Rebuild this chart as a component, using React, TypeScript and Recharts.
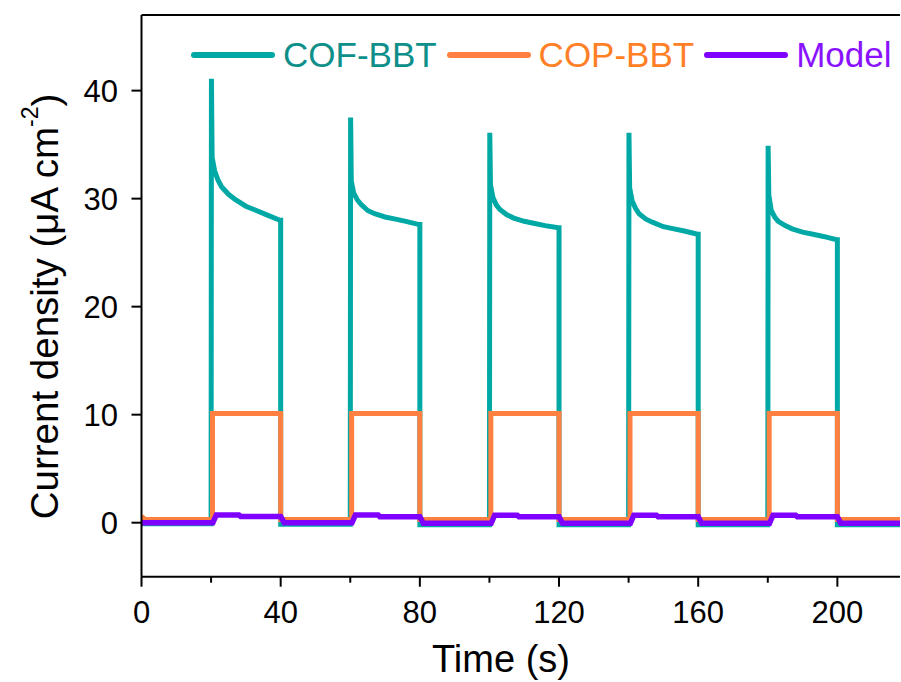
import React from 'react';
import { LineChart, Line, XAxis, YAxis, ReferenceLine, Legend } from 'recharts';

const FONT = '"Liberation Sans", Arial, Helvetica, sans-serif';

// ---- data ----
const lightOn = [20, 60, 100, 140, 180]; // s, illumination starts
const pulseLength = 20; // s
const tEnd = 218;
const xTicks = [0, 20, 40, 60, 80, 100, 120, 140, 160, 180, 200];
const yTicks = [0, 10, 20, 30, 40];

// COF-BBT
const cofDark = [-0.1, -0.15, -0.2, -0.2, -0.2, -0.2];
const cofPeak = [41.1, 37.5, 36.1, 36.1, 34.9];
const decayTimes = [0.3, 1, 2, 3, 5, 7, 10, 13, 16, 19.8];
const cofDecay1 = [33.8, 32.6, 31.7, 31.1, 30.4, 29.9, 29.3, 28.9, 28.5, 28.0];
const cofDecay2 = [31.6, 30.5, 29.9, 29.5, 28.9, 28.6, 28.3, 28.1, 27.9, 27.6];
const cofDecay3 = [31.3, 30.1, 29.4, 29.0, 28.5, 28.2, 27.9, 27.7, 27.5, 27.3];
const cofDecay4 = [31.0, 29.8, 29.1, 28.6, 28.1, 27.8, 27.4, 27.2, 27.0, 26.7];
const cofDecay5 = [30.3, 28.9, 28.3, 27.9, 27.5, 27.2, 26.9, 26.7, 26.5, 26.2];
const cofDecays = [cofDecay1, cofDecay2, cofDecay3, cofDecay4, cofDecay5];

// COP-BBT
const copStart = 0.6;
const copDark = [0.3, 0.3, 0.3, 0.3, 0.3, 0.3];
const copLight = [10.1, 10.1, 10.1, 10.1, 10.1];

// Model
const modelDark = [0.0, 0.0, -0.05, -0.05, -0.05, -0.05];
const modelHigh = [0.72, 0.72, 0.7, 0.7, 0.7];
const modelLow = [0.58, 0.55, 0.55, 0.55, 0.55];

const legendItems = [
  { name: 'COF-BBT', line: '#00A9A5', text: '#0E8F8A' },
  { name: 'COP-BBT', line: '#FF8040', text: '#FF8026' },
  { name: 'Model', line: '#8000FF', text: '#8A12FF' },
];

// ---- build series ----
type P = { t: number; v: number };

function buildCof(): P[] {
  const pts: P[] = [{ t: 0, v: cofDark[0] }];
  lightOn.forEach((t0, i) => {
    const d = cofDecays[i];
    pts.push({ t: t0, v: cofDark[i] });
    pts.push({ t: t0 + 0.1, v: cofPeak[i] });
    decayTimes.forEach((dt, j) => pts.push({ t: t0 + dt, v: d[j] }));
    pts.push({ t: t0 + pulseLength, v: d[d.length - 1] });
    pts.push({ t: t0 + pulseLength, v: cofDark[i + 1] });
  });
  pts.push({ t: tEnd, v: cofDark[cofDark.length - 1] });
  return pts;
}

function buildCop(): P[] {
  const pts: P[] = [{ t: 0, v: copStart }, { t: 1, v: copDark[0] }];
  lightOn.forEach((t0, i) => {
    pts.push({ t: t0 + 0.4, v: copDark[i] });
    pts.push({ t: t0 + 0.4, v: copLight[i] });
    pts.push({ t: t0 + pulseLength, v: copLight[i] });
    pts.push({ t: t0 + pulseLength, v: copDark[i + 1] });
  });
  pts.push({ t: tEnd, v: copDark[copDark.length - 1] });
  return pts;
}

function buildModel(): P[] {
  const pts: P[] = [{ t: 0, v: modelDark[0] }];
  lightOn.forEach((t0, i) => {
    pts.push({ t: t0 + 0.5, v: modelDark[i] });
    pts.push({ t: t0 + 1.5, v: modelHigh[i] });
    pts.push({ t: t0 + 8, v: modelHigh[i] });
    pts.push({ t: t0 + 8.5, v: modelLow[i] });
    pts.push({ t: t0 + pulseLength, v: modelLow[i] });
    pts.push({ t: t0 + pulseLength + 1, v: modelDark[i + 1] });
  });
  pts.push({ t: tEnd, v: modelDark[modelDark.length - 1] });
  return pts;
}

const cofData = buildCof();
const copData = buildCop();
const modelData = buildModel();

// ---- custom pieces ----
const XTick = (props: any) => {
  const { x, y, payload } = props;
  const major = payload.value % 40 === 0;
  return (
    <g>
      <line x1={x} x2={x} y1={y} y2={y + (major ? 10 : 6)} stroke="#000" strokeWidth={2} />
      {major && (
        <text x={x} y={y + 46.6} textAnchor="middle" fontSize={31} fontFamily={FONT} fill="#000">
          {payload.value}
        </text>
      )}
    </g>
  );
};

const YTick = (props: any) => {
  const { x, y, payload } = props;
  return (
    <g>
      <line x1={x - 10} x2={x} y1={y} y2={y} stroke="#000" strokeWidth={2} />
      <text x={x - 23.5} y={y + 11} textAnchor="end" fontSize={31} fontFamily={FONT} fill="#000">
        {payload.value}
      </text>
    </g>
  );
};

const XTitle = (props: any) => {
  const vb = props.viewBox || {};
  return (
    <text x={vb.x + 359.5} y={vb.y + 95.6} textAnchor="middle" fontSize={38} fontFamily={FONT} fill="#000">
      Time (s)
    </text>
  );
};

const YTitle = (props: any) => {
  const vb = props.viewBox || {};
  const cx = vb.x + 45;
  const cy = vb.y + vb.height / 2 + 10.6;
  return (
    <text
      x={cx}
      y={cy}
      transform={`rotate(-90, ${cx}, ${cy})`}
      textAnchor="middle"
      dominantBaseline="central"
      fontSize={38.5}
      fontFamily={FONT}
      fill="#000"
    >
      Current density (μA cm
      <tspan dy={-15} fontSize={23}>-2</tspan>
      <tspan dy={15}>)</tspan>
    </text>
  );
};

const LegendContent = () => (
  <div style={{ display: 'flex', alignItems: 'center', height: 40, fontFamily: FONT }}>
    {legendItems.map((it, i) => (
      <div key={it.name} style={{ display: 'flex', alignItems: 'center', marginRight: i < legendItems.length - 1 ? 10 : 0 }}>
        <span style={{ display: 'inline-block', width: 84, height: 5.5, borderRadius: 3, background: it.line, marginRight: 8 }} />
        <span style={{ fontSize: 35, color: it.text, whiteSpace: 'nowrap', lineHeight: '40px' }}>{it.name}</span>
      </div>
    ))}
  </div>
);

export default function App() {
  return (
    <div style={{ position: 'absolute', left: 0, top: 0, width: 901, height: 682, overflow: 'hidden', background: '#fff' }}>
      <LineChart width={901} height={682} margin={{ top: 15, right: 1, bottom: 0, left: 0 }}>
        <XAxis
          dataKey="t"
          type="number"
          domain={[0, tEnd]}
          ticks={xTicks}
          allowDataOverflow
          height={105.3}
          axisLine={{ stroke: '#000', strokeWidth: 2 }}
          tickLine={false}
          tickSize={0}
          tickMargin={0}
          tick={<XTick />}
          interval={0}
          label={<XTitle />}
        />
        <YAxis
          type="number"
          domain={[-5, 47]}
          ticks={yTicks}
          allowDataOverflow
          width={141.5}
          axisLine={{ stroke: '#000', strokeWidth: 2 }}
          tickLine={false}
          tickSize={0}
          tickMargin={0}
          tick={<YTick />}
          interval={0}
          label={<YTitle />}
        />
        <ReferenceLine y={47} stroke="#000" strokeWidth={2} />
        <Legend
          layout="horizontal"
          verticalAlign="middle"
          align="center"
          content={<LegendContent />}
          wrapperStyle={{ left: 191, top: 35, width: 720, height: 40 }}
        />
        <Line data={cofData} dataKey="v" name="COF-BBT" stroke="#00A9A5" strokeWidth={5} dot={false} isAnimationActive={false} legendType="line" />
        <Line data={copData} dataKey="v" name="COP-BBT" stroke="#FF8040" strokeWidth={5} dot={false} isAnimationActive={false} legendType="line" />
        <Line data={modelData} dataKey="v" name="Model" stroke="#8000FF" strokeWidth={5.5} dot={false} isAnimationActive={false} legendType="line" />
      </LineChart>
    </div>
  );
}
